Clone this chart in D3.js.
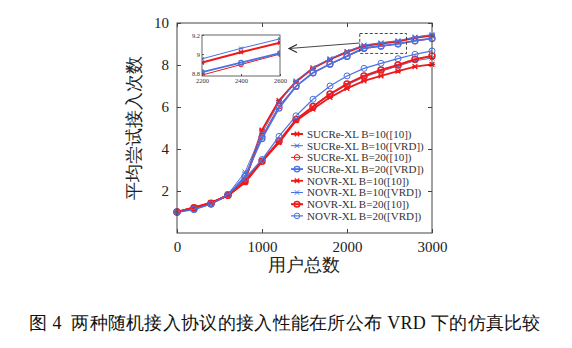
<!DOCTYPE html>
<html>
<head>
<meta charset="utf-8">
<script src="https://cdn.jsdelivr.net/npm/d3@7/dist/d3.min.js"></script>
<style>
  body { margin: 0; background: #fff; }
  svg text { font-family: "Liberation Serif", "DejaVu Serif", serif; }
</style>
</head>
<body>
<div id="chart"></div>
<script>
// users (x), 0..3000 step 200
var users = [0, 200, 400, 600, 800, 1000, 1200, 1400, 1600, 1800, 2000, 2200, 2400, 2600, 2800, 3000];

var sucre10_10  = [1.0, 1.2, 1.42, 1.8, 2.5, 4.9, 6.3, 7.2, 7.85, 8.27, 8.62, 8.91, 9.02, 9.12, 9.3, 9.4];
var sucre10_vrd = [1.0, 1.15, 1.4, 1.85, 2.9, 4.75, 6.2, 7.25, 7.87, 8.3, 8.65, 8.95, 9.06, 9.16, 9.33, 9.45];
var sucre20_10  = [1.0, 1.18, 1.4, 1.8, 2.5, 4.6, 6.05, 7.0, 7.62, 8.03, 8.4, 8.78, 8.89, 9.0, 9.14, 9.25];
var sucre20_vrd = [1.0, 1.13, 1.38, 1.82, 2.7, 4.5, 5.95, 6.98, 7.63, 8.05, 8.42, 8.81, 8.91, 9.01, 9.16, 9.27];
var novr10_10   = [1.0, 1.22, 1.45, 1.78, 2.4, 3.4, 4.3, 5.35, 5.9, 6.46, 6.89, 7.24, 7.48, 7.71, 7.92, 8.03];
var novr10_vrd  = [1.0, 1.15, 1.4, 1.82, 2.55, 3.45, 4.35, 5.42, 6.0, 6.58, 7.05, 7.42, 7.7, 7.95, 8.2, 8.33];
var novr20_10   = [1.0, 1.2, 1.42, 1.8, 2.45, 3.42, 4.38, 5.4, 6.02, 6.62, 7.1, 7.48, 7.76, 8.0, 8.27, 8.43];
var novr20_vrd  = [1.0, 1.13, 1.38, 1.83, 2.6, 3.5, 4.6, 5.58, 6.37, 7.0, 7.48, 7.84, 8.08, 8.3, 8.51, 8.67];

var names = ["SUCRe-XL B=10([10])", "SUCRe-XL B=10([VRD])", "SUCRe-XL B=20([10])", "SUCRe-XL B=20([VRD])",
             "NOVR-XL B=10([10])", "NOVR-XL B=10([VRD])", "NOVR-XL B=20([10])", "NOVR-XL B=20([VRD])"];

var xTicks = [0, 1000, 2000, 3000];
var yTicks = [2, 4, 6, 8, 10];
var insetXTicks = [2200, 2400, 2600];
var insetYTicks = [8.8, 9, 9.2];

var red = "#f01818", blue = "#4a72e0";
var series = [
  {name: names[0], values: sucre10_10,  color: red,  width: 2,   mark: "star"},
  {name: names[1], values: sucre10_vrd, color: blue, width: 1,   mark: "star"},
  {name: names[2], values: sucre20_10,  color: red,  width: 1,   mark: "circle"},
  {name: names[3], values: sucre20_vrd, color: blue, width: 1.8, mark: "circle"},
  {name: names[4], values: novr10_10,   color: red,  width: 1.8, mark: "star"},
  {name: names[5], values: novr10_vrd,  color: blue, width: 1,   mark: "star"},
  {name: names[6], values: novr20_10,   color: red,  width: 2,   mark: "circle"},
  {name: names[7], values: novr20_vrd,  color: blue, width: 1.2, mark: "circle"}
];

var svg = d3.select("#chart").append("svg")
    .attr("width", 572)
    .attr("height", 348);

var x = d3.scaleLinear().domain([0, 3000]).range([177, 432]);
var y = d3.scaleLinear().domain([0, 10]).range([233, 23]);

function drawMark(g, mk, px, py, color, w, r) {
  if (mk === "circle") {
    g.append("circle").attr("cx", px).attr("cy", py).attr("r", r)
      .attr("fill", "none").attr("stroke", color).attr("stroke-width", w);
  } else {
    var s = r * 0.8;
    g.append("path")
      .attr("d", "M" + (px - s) + "," + (py - s) + "L" + (px + s) + "," + (py + s) +
                 "M" + (px - s) + "," + (py + s) + "L" + (px + s) + "," + (py - s) +
                 "M" + (px - r) + "," + py + "L" + (px + r) + "," + py)
      .attr("stroke", color).attr("stroke-width", w).attr("fill", "none");
  }
}

function drawSeries(g, sx, sy, list, r) {
  list.forEach(function (s) {
    var line = d3.line()
      .x(function (d, i) { return sx(users[i]); })
      .y(function (d) { return sy(d); });
    g.append("path").datum(s.values)
      .attr("d", line)
      .attr("fill", "none")
      .attr("stroke", s.color)
      .attr("stroke-width", s.width);
    s.values.forEach(function (v, i) {
      drawMark(g, s.mark, sx(users[i]), sy(v), s.color, Math.max(1, s.width * 0.75), r);
    });
  });
}

// main plot
var plot = svg.append("g");
drawSeries(plot, x, y, series, 3);

// frame with inward ticks
svg.append("rect").attr("x", 177).attr("y", 23).attr("width", 255).attr("height", 210)
  .attr("fill", "none").attr("stroke", "#444").attr("stroke-width", 1);

var fmt = d3.format("d");
var axB = svg.append("g").attr("transform", "translate(0,233)")
  .call(d3.axisBottom(x).tickValues(xTicks).tickSizeInner(-4).tickSizeOuter(0).tickPadding(8).tickFormat(fmt));
var axT = svg.append("g").attr("transform", "translate(0,23)")
  .call(d3.axisTop(x).tickValues(xTicks).tickSizeInner(-4).tickSizeOuter(0).tickFormat(""));
var axL = svg.append("g").attr("transform", "translate(177,0)")
  .call(d3.axisLeft(y).tickValues(yTicks).tickSizeInner(-4).tickSizeOuter(0).tickPadding(8).tickFormat(fmt));
var axR = svg.append("g").attr("transform", "translate(432,0)")
  .call(d3.axisRight(y).tickValues(yTicks).tickSizeInner(-4).tickSizeOuter(0).tickFormat(""));
[axB, axT, axL, axR].forEach(function (a) {
  a.select(".domain").remove();
  a.selectAll("line").attr("stroke", "#444");
  a.selectAll("text").attr("font-size", 15).attr("fill", "#222")
    .attr("font-family", "'Liberation Serif', serif");
});

// axis titles
svg.append("text").attr("x", 304).attr("y", 271).attr("text-anchor", "middle")
  .attr("font-size", 18).attr("font-family", "'Noto Sans CJK SC', sans-serif").attr("fill", "#222")
  .text("用户总数");
svg.append("text").attr("transform", "translate(140,128) rotate(-90)").attr("text-anchor", "middle")
  .attr("font-size", 18).attr("font-family", "'Noto Sans CJK SC', sans-serif").attr("fill", "#222")
  .text("平均尝试接入次数");

// zoom region box and arrow
svg.append("rect").attr("x", x(2150)).attr("y", y(9.5)).attr("width", x(2700) - x(2150)).attr("height", y(8.55) - y(9.5))
  .attr("fill", "none").attr("stroke", "#333").attr("stroke-dasharray", "3,2").attr("stroke-width", 0.9);
svg.append("line").attr("x1", x(2150)).attr("y1", 43).attr("x2", 289).attr("y2", 48.5)
  .attr("stroke", "#333").attr("stroke-width", 0.9);
svg.append("path").attr("d", "M297,44.5L289,48.5L297,52.5")
  .attr("fill", "none").attr("stroke", "#222").attr("stroke-width", 1.1);

// inset
var ix = d3.scaleLinear().domain([2200, 2600]).range([202, 280]);
var iy = d3.scaleLinear().domain([8.77, 9.2]).range([76, 35]);
svg.append("rect").attr("x", 202).attr("y", 35).attr("width", 78).attr("height", 41).attr("fill", "#fff");
svg.append("clipPath").attr("id", "insetClip").append("rect")
  .attr("x", 202).attr("y", 35).attr("width", 78).attr("height", 41);
var inset = svg.append("g").attr("clip-path", "url(#insetClip)");
drawSeries(inset, ix, iy, series.slice(0, 4), 2.3);
svg.append("rect").attr("x", 202).attr("y", 35).attr("width", 78).attr("height", 41)
  .attr("fill", "none").attr("stroke", "#555").attr("stroke-width", 0.9);
var iaB = svg.append("g").attr("transform", "translate(0,76)")
  .call(d3.axisBottom(ix).tickValues(insetXTicks).tickSizeInner(-2).tickSizeOuter(0).tickPadding(2).tickFormat(fmt));
var iaL = svg.append("g").attr("transform", "translate(202,0)")
  .call(d3.axisLeft(iy).tickValues(insetYTicks).tickSizeInner(-2).tickSizeOuter(0).tickPadding(2)
    .tickFormat(function (d) { return d === 9 ? "9" : d3.format(".1f")(d); }));
[iaB, iaL].forEach(function (a) {
  a.select(".domain").remove();
  a.selectAll("line").attr("stroke", "#555");
  a.selectAll("text").attr("font-size", 6.5).attr("fill", "#333")
    .attr("font-family", "'Liberation Serif', serif");
});

// legend
var leg = svg.append("g");
series.forEach(function (s, i) {
  var ly = 134 + i * 11.7;
  leg.append("line").attr("x1", 291).attr("x2", 303).attr("y1", ly).attr("y2", ly)
    .attr("stroke", s.color).attr("stroke-width", s.width);
  drawMark(leg, s.mark, 297, ly, s.color, Math.max(1, s.width * 0.75), 2.8);
  leg.append("text").attr("x", 307).attr("y", ly + 3.8)
    .attr("font-size", 11).attr("fill", "#333").text(s.name);
});

// caption
svg.append("text").attr("x", 285).attr("y", 329).attr("text-anchor", "middle")
  .attr("font-size", 18).attr("font-family", "'Noto Sans CJK SC', sans-serif").attr("fill", "#111")
  .attr("letter-spacing", 0.3)
  .style("white-space", "pre")
  .text("图 4  两种随机接入协议的接入性能在所公布 VRD 下的仿真比较");
</script>
</body>
</html>
